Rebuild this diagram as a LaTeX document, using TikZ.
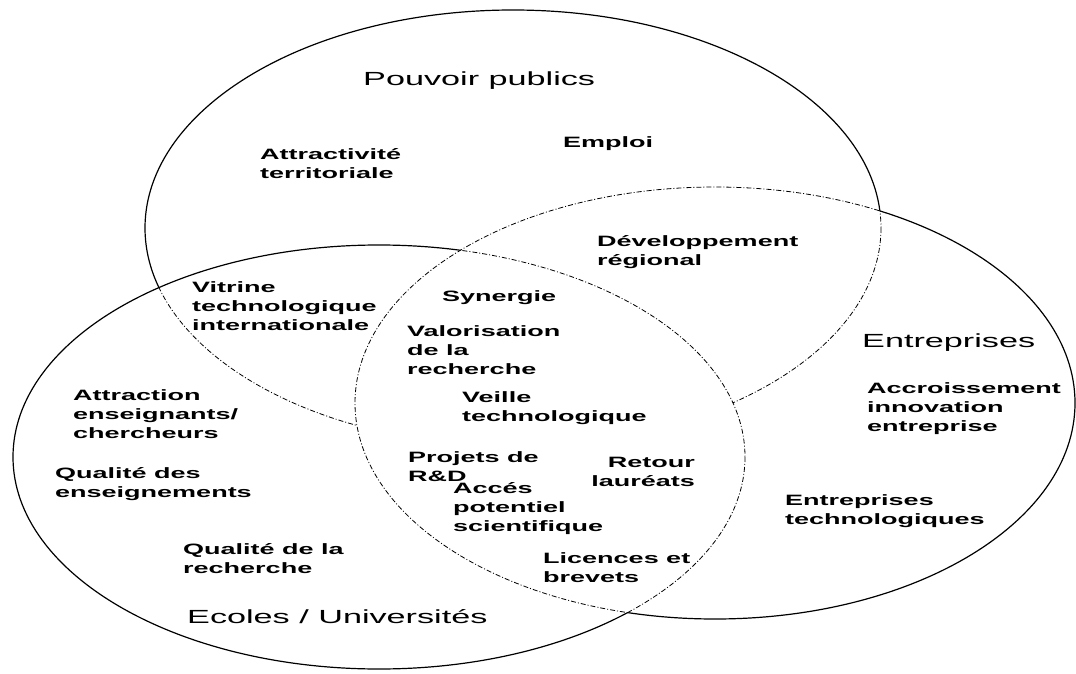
\documentclass[tikz,border=0pt]{standalone}
\usepackage{fontspec}
\setmainfont{Liberation Sans}[FakeStretch=1.8]
\begin{document}
\begin{tikzpicture}[x=1pt,y=-1pt,
  solidline/.style={line width=1.2pt,black},
  innerline/.style={line width=0.8pt,black,dash pattern=on 5pt off 2pt on 1pt off 2pt},
  lab/.style={font=\bfseries\fontsize{15}{19}\selectfont,align=left,anchor=base west,inner sep=0pt},
  labr/.style={font=\bfseries\fontsize{15}{19}\selectfont,align=right,anchor=base east,inner sep=0pt},
  ttl/.style={font=\fontsize{19}{23}\selectfont,anchor=base west,inner sep=0pt}]
\useasboundingbox (0,0) rectangle (1076,674);
\def\Etop{(513,228) ellipse [x radius=368, y radius=218]}
\def\Eleft{(379,457) ellipse [x radius=366, y radius=212]}
\def\Eright{(715,403) ellipse [x radius=360, y radius=216]}
\def\Outer{(-20,-20) rectangle (1100,700)}
% ---- top ellipse (Pouvoir publics)
\begin{scope}[even odd rule]
  \clip \Outer \Eleft;
  \clip \Outer \Eright;
  \draw[solidline] \Etop;
\end{scope}
\begin{scope}[even odd rule]
  \clip \Eleft;
  \clip \Outer \Eright;
  \draw[innerline] \Etop;
\end{scope}
\begin{scope}[even odd rule]
  \clip \Eright;
  \clip \Outer \Eleft;
  \draw[innerline] \Etop;
\end{scope}
% ---- left ellipse (Ecoles)
\begin{scope}[even odd rule]
  \clip \Outer \Eright;
  \draw[solidline] \Eleft;
\end{scope}
\begin{scope}[even odd rule]
  \clip \Eright;
  \draw[innerline] \Eleft;
\end{scope}
% ---- right ellipse (Entreprises)
\begin{scope}[even odd rule]
  \clip \Outer \Etop;
  \clip \Outer \Eleft;
  \draw[solidline] \Eright;
\end{scope}
\begin{scope}[even odd rule]
  \clip \Etop;
  \draw[innerline] \Eright;
\end{scope}
\begin{scope}[even odd rule]
  \clip \Eleft;
  \clip \Outer \Etop;
  \draw[innerline] \Eright;
\end{scope}
% ---- titles
\node[ttl] (pp) at (363,86) {Pouvoir publics};
\node[ttl] (ent) at (862,347) {Entreprises};
\node[ttl] (eu) at (187,623) {Ecoles / Universités};
% ---- labels (anchor = baseline of last line)
\node[lab] (emp) at (563,147) {Emploi};
\node[lab] (attr) at (260,178) {Attractivité\\territoriale};
\node[lab] (dev) at (597,265) {Développement\\régional};
\node[lab] (vit) at (192,330) {Vitrine\\technologique\\internationale};
\node[lab] (syn) at (442,301) {Synergie};
\node[lab] (val) at (407,374) {Valorisation\\de la\\recherche};
\node[lab] (veil) at (462,421) {Veille\\technologique};
\node[lab] (atens) at (73,438) {Attraction\\enseignants/\\chercheurs};
\node[lab] (proj) at (408,481) {Projets de\\R\&D};
\node[labr] (ret) at (695,486) {Retour\\lauréats};
\node[lab] (acc) at (453,531) {Accés\\potentiel\\scientifique};
\node[lab] (qens) at (55,497) {Qualité des\\enseignements};
\node[lab] (qrech) at (183,573) {Qualité de la\\recherche};
\node[lab] (lic) at (543,582) {Licences et\\brevets};
\node[lab] (accr) at (867,431) {Accroissement\\innovation\\entreprise};
\node[lab] (etech) at (785,524) {Entreprises\\technologiques};
\end{tikzpicture}
\end{document}
